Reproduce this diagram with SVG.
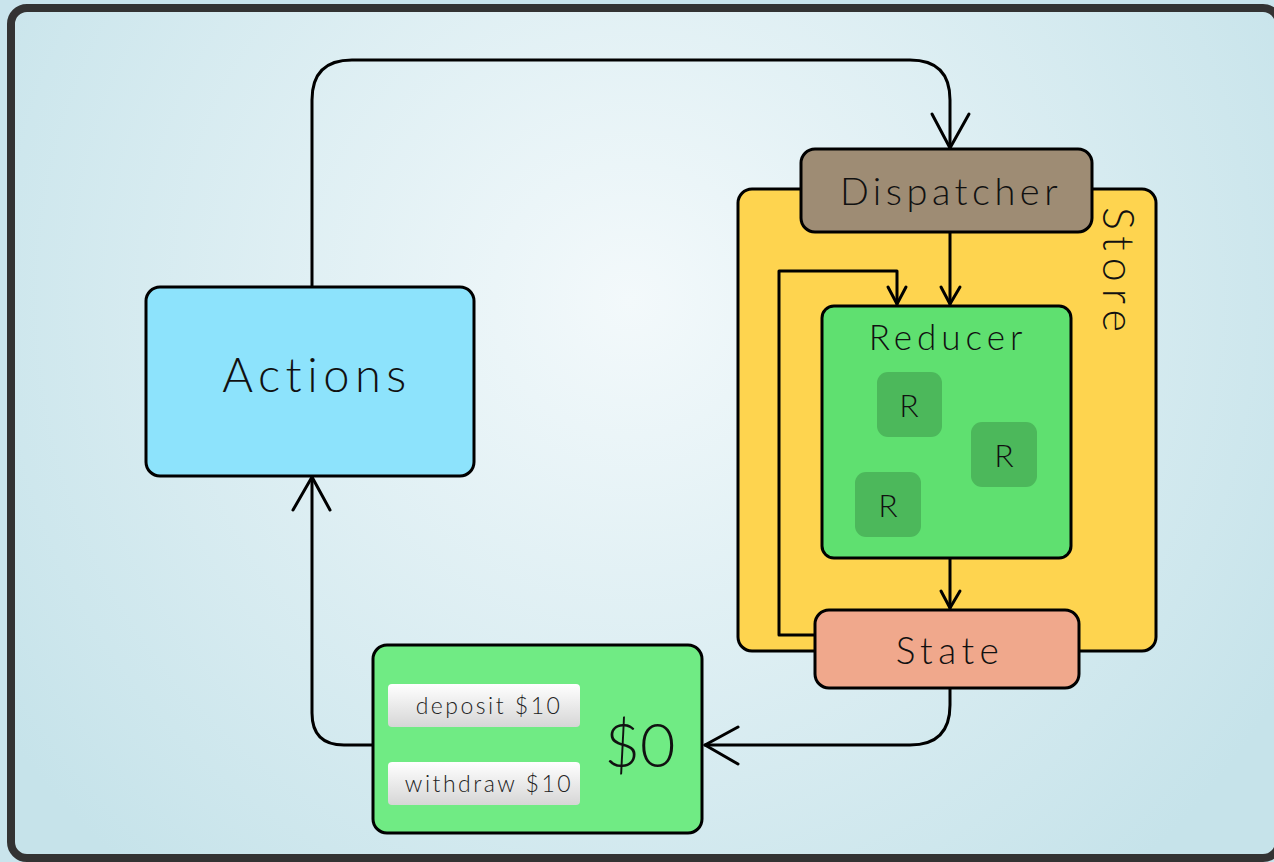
<svg xmlns="http://www.w3.org/2000/svg" width="1274" height="862" viewBox="0 0 1274 862">
  <defs>
    <radialGradient id="bg" cx="630" cy="300" r="760" gradientUnits="userSpaceOnUse">
      <stop offset="0" stop-color="#f3f9fb"/>
      <stop offset="1" stop-color="#c6e3ea"/>
    </radialGradient>
    <linearGradient id="btn" x1="0" y1="0" x2="0" y2="1">
      <stop offset="0" stop-color="#ffffff"/>
      <stop offset="1" stop-color="#d6d6d6"/>
    </linearGradient>
    <style>
      .box { stroke: #000; stroke-width: 3; }
      .lbl { font-family: "Lato", "Open Sans", sans-serif; font-weight: 300; fill: #111; text-anchor: middle; dominant-baseline: central; }
      .wire { fill: none; stroke: #000; stroke-width: 3; stroke-linecap: round; stroke-linejoin: round; }
      .btn-t { font-family: "Lato", "Open Sans", sans-serif; font-weight: 300; fill: #222; font-size: 23px; text-anchor: middle; dominant-baseline: central; letter-spacing: 2.5px; }
    </style>
  </defs>

  <!-- backdrop and frame -->
  <rect x="0" y="0" width="1274" height="862" fill="#c9e4ec"/>
  <rect x="11" y="8" width="1268" height="850" rx="16" fill="url(#bg)" stroke="#333" stroke-width="8"/>

  <!-- store container -->
  <g id="store">
    <rect class="box" x="738" y="189" width="418" height="462" rx="14" fill="#fed44f"/>
    <text class="lbl" font-size="43" letter-spacing="7" transform="translate(1119 273) rotate(90)">Store</text>
  </g>

  <!-- connectors -->
  <g id="connectors">
    <path class="wire" d="M312 287 V100 Q312 60 352 60 H910 Q950 60 950 100 V148"/>
    <path class="wire" d="M932 114 L950 148 L969 114"/>
    <path class="wire" d="M950 232 V304"/>
    <path class="wire" d="M941 287 L950 304 L960 287"/>
    <path class="wire" d="M815 635 H779 V271 H897 V304"/>
    <path class="wire" d="M888 287 L897 304 L906 287"/>
    <path class="wire" d="M950 558 V608"/>
    <path class="wire" d="M941 591 L950 608 L960 591"/>
    <path class="wire" d="M950 688 V705 Q950 745 910 745 H705"/>
    <path class="wire" d="M738 727 L705 745 L738 764"/>
    <path class="wire" d="M373 745 H344 Q312 745 312 713 V477"/>
    <path class="wire" d="M293 510 L312 477 L330 510"/>
  </g>

  <g id="actions">
    <rect class="box" x="146" y="287" width="328" height="189" rx="14" fill="#8de3fc"/>
    <text class="lbl" x="317" y="374" font-size="47" letter-spacing="5.5">Actions</text>
  </g>

  <g id="dispatcher">
    <rect class="box" x="801" y="149" width="291" height="83" rx="14" fill="#9e8c74"/>
    <text class="lbl" x="951" y="190" font-size="38" letter-spacing="4.5">Dispatcher</text>
  </g>

  <g id="reducer">
    <rect class="box" x="822" y="306" width="249" height="252" rx="12" fill="#5fe070"/>
    <text class="lbl" x="948" y="336" font-size="35" letter-spacing="5">Reducer</text>
    <rect x="877" y="372" width="65" height="65" rx="11" fill="#4cb85b"/>
    <text class="lbl" x="909" y="404" font-size="32">R</text>
    <rect x="971" y="422" width="66" height="65" rx="11" fill="#4cb85b"/>
    <text class="lbl" x="1004" y="454" font-size="32">R</text>
    <rect x="855" y="472" width="66" height="65" rx="11" fill="#4cb85b"/>
    <text class="lbl" x="888" y="504" font-size="32">R</text>
  </g>

  <g id="state">
    <rect class="box" x="815" y="610" width="264" height="78" rx="14" fill="#f0a88c"/>
    <text class="lbl" x="950" y="649" font-size="37" letter-spacing="5.5">State</text>
  </g>

  <g id="account">
    <rect class="box" x="373" y="645" width="329" height="188" rx="14" fill="#70eb84"/>
    <rect x="388" y="684" width="192" height="43" rx="4" fill="url(#btn)"/>
    <text class="btn-t" x="489" y="705">deposit $10</text>
    <rect x="388" y="762" width="192" height="43" rx="4" fill="url(#btn)"/>
    <text class="btn-t" x="489" y="783">withdraw $10</text>
    <text class="lbl" x="640" y="743" font-size="61">$0</text>
  </g>
</svg>
